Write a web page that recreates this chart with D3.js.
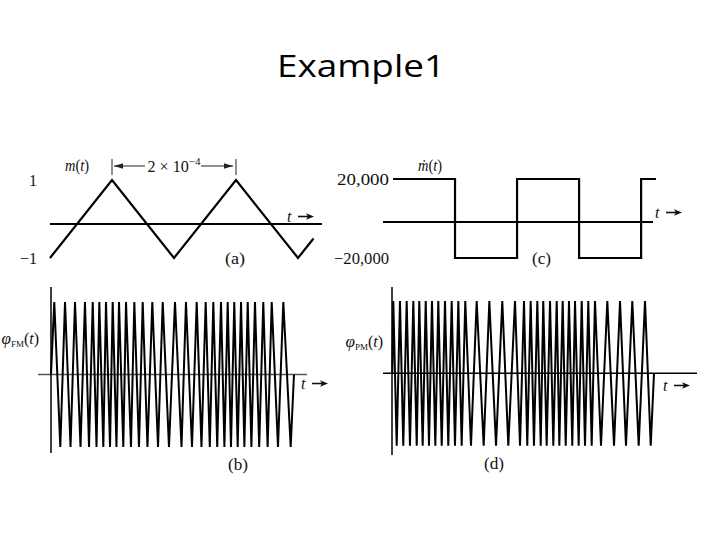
<!DOCTYPE html>
<html><head><meta charset="utf-8">
<script src="https://cdn.jsdelivr.net/npm/d3@7"></script>
<style>body{margin:0;background:#fff}</style>
</head><body>
<svg id="c" width="720" height="540"></svg>
<script>
// ---------------- data (time in units of 1e-4 s) ----------------
const titleText = "Example1";
const mTimes  = [0, 1, 2, 3, 4, 4.25];
const mValues = [-1, 1, -1, 1, -1, -0.5];
const mTickValues = [1, -1];
const mTickLabels = ["1", "\u22121"];
const mdotTimes  = [0, 1, 2, 3, 4, 4.24];
const mdotValues = [20000, -20000, 20000, -20000, 20000, 20000];
const mdotTickValues = [20000, -20000];
const mdotTickLabels = ["20,000", "\u221220,000"];
const fmStartEnd = [0, 3.919];
const fmPeakTimes = [0.053,0.226,0.387,0.548,0.673,0.779,0.887,0.995,1.097,1.210,1.344,1.479,1.634,1.802,
  2.000,2.177,2.350,2.495,2.618,2.742,2.850,2.956,3.065,3.173,3.290,3.424,3.560,3.747];
const fmTroughTimes = [0.150,0.315,0.476,0.613,0.734,0.844,0.952,1.056,1.166,1.290,1.419,1.556,1.726,1.903,
  2.105,2.274,2.427,2.561,2.681,2.797,2.903,3.011,3.119,3.232,3.358,3.494,3.661,3.866];
const pmStartEnd = [0, 4.221];
const pmPeakTimes = [0.016,0.124,0.232,0.339,0.435,0.539,0.640,0.742,0.850,0.958,1.065,1.177,1.361,1.565,1.774,1.979,
  2.124,2.232,2.339,2.435,2.544,2.652,2.748,2.850,2.947,3.055,3.161,3.269,3.468,3.673,3.871,4.076];
const pmTroughTimes = [0.071,0.177,0.285,0.394,0.490,0.592,0.694,0.797,0.903,1.011,1.119,1.269,1.474,1.673,1.871,2.060,
  2.177,2.285,2.394,2.490,2.597,2.694,2.797,2.903,3.006,3.108,3.216,3.366,3.576,3.769,3.974,4.168];
const spanLabel = "2 \u00d7 10";
const spanExp = "\u22124";
const spanFrom = 1, spanTo = 3;

// ---------------- helpers ----------------
const svg = d3.select("#c");
const serif = "'Liberation Serif','Times New Roman','DejaVu Serif',serif";
const FS = 16;
function zigzag(startEnd, peaks, troughs) {
  const pts = [[startEnd[0], 0]];
  peaks.forEach(t => pts.push([t, 1]));
  troughs.forEach(t => pts.push([t, -1]));
  pts.push([startEnd[1], 0]);
  return pts.sort((a, b) => a[0] - b[0]);
}
function hline(g, x1, x2, y, color, w) {
  g.append("line").attr("x1", x1).attr("x2", x2).attr("y1", y).attr("y2", y)
    .attr("stroke", color).attr("stroke-width", w);
}
function vline(g, x, y1, y2, color, w) {
  g.append("line").attr("x1", x).attr("x2", x).attr("y1", y1).attr("y2", y2)
    .attr("stroke", color).attr("stroke-width", w);
}
function label(g, x, y, parts, anchor, width) {
  const t = g.append("text").attr("x", x).attr("y", y).attr("font-family", serif)
    .attr("font-size", FS).attr("text-anchor", anchor || "start").attr("fill", "#111");
  parts.forEach(p => {
    const s = t.append("tspan").text(p.t);
    if (p.i) s.attr("font-style", "italic");
    if (p.fs) s.attr("font-size", p.fs);
    if (p.dy) s.attr("dy", p.dy);
  });
  if (width) t.attr("textLength", width).attr("lengthAdjust", "spacingAndGlyphs");
  return t;
}
function tArrow(g, x, y) {
  label(g, x, y, [{t: "t", i: 1}]);
  const ay = y - 5.5, ax1 = x + 11, ax2 = x + 27;
  hline(g, ax1, ax2 - 6, ay, "#111", 1.6);
  g.append("path").attr("d", `M${ax2},${ay} l-8,-3.2 l2,3.2 l-2,3.2 z`).attr("fill", "#111");
}
function leftAxis(g, x, scale, vals, labs, widths) {
  const ax = g.append("g").attr("transform", `translate(${x},0)`)
    .call(d3.axisLeft(scale).tickValues(vals).tickSize(0).tickPadding(0)
      .tickFormat((d, i) => labs[i]));
  ax.select(".domain").remove();
  ax.attr("font-family", serif).attr("font-size", FS);
  ax.selectAll("text").attr("fill", "#111");
  if (widths) ax.selectAll("text").attr("textLength", (d, i) => widths[i]).attr("lengthAdjust", "spacingAndGlyphs");
}

// ---------------- title ----------------
svg.append("text").attr("x", 361).attr("y", 77).attr("text-anchor", "middle")
  .attr("font-family", "'Open Sans','Noto Sans',sans-serif").attr("font-size", 31)
  .attr("textLength", 168).attr("lengthAdjust", "spacingAndGlyphs").attr("fill", "#000")
  .text(titleText);

// ---------------- panel (a) ----------------
const gA = svg.append("g");
const xA = d3.scaleLinear().domain([0, 4.25]).range([50, 313.5]);
const yA = d3.scaleLinear().domain([-1, 1]).range([258, 180]);
hline(gA, 50, 322, yA(-0.13), "#000", 2);
gA.append("path").datum(d3.zip(mTimes, mValues))
  .attr("d", d3.line().x(d => xA(d[0])).y(d => yA(d[1])))
  .attr("fill", "none").attr("stroke", "#000").attr("stroke-width", 2.2);
leftAxis(gA, 37, yA, mTickValues, mTickLabels);
label(gA, 65, 171, [{t: "m", i: 1}, {t: "("}, {t: "t", i: 1}, {t: ")"}], "start", 24);
// span annotation
const sx1 = xA(spanFrom), sx2 = xA(spanTo), sy = 166;
vline(gA, sx1, 159, 175, "#222", 1);
vline(gA, sx2, 159, 175, "#222", 1);
hline(gA, sx1 + 2, 145, sy, "#222", 1);
hline(gA, 201, sx2 - 3, sy, "#222", 1);
gA.append("path").attr("d", `M${sx1 + 2},${sy} l9,-2.8 l0,5.6 z`).attr("fill", "#222");
gA.append("path").attr("d", `M${sx2 - 3},${sy} l-9,-2.8 l0,5.6 z`).attr("fill", "#222");
label(gA, xA(2), 172, [{t: spanLabel}, {t: spanExp, fs: 11, dy: -7}], "middle", 53);
tArrow(gA, 287, 222);
label(gA, 225, 264, [{t: "(a)"}], "start", 20);

// ---------------- panel (c) ----------------
const gC = svg.append("g");
const xC = d3.scaleLinear().domain([0, 4.24]).range([393, 656]);
const yC = d3.scaleLinear().domain([-20000, 20000]).range([258, 179]);
hline(gC, 383, 653, yC(-1800), "#000", 2);
gC.append("path").datum(d3.zip(mdotTimes, mdotValues))
  .attr("d", d3.line().curve(d3.curveStepAfter).x(d => xC(d[0])).y(d => yC(d[1])))
  .attr("fill", "none").attr("stroke", "#000").attr("stroke-width", 2.2);
leftAxis(gC, 389, yC, mdotTickValues, mdotTickLabels, [52, 55]);
label(gC, 418, 171, [{t: "\u1e41", i: 1}, {t: "("}, {t: "t", i: 1}, {t: ")"}], "start", 24);
tArrow(gC, 655, 218);
label(gC, 532, 264, [{t: "(c)"}], "start", 19);

// ---------------- panel (b) ----------------
const gB = svg.append("g");
const xB = d3.scaleLinear().domain([0, 4]).range([51, 299]);
const yB = d3.scaleLinear().domain([-1, 1]).range([447, 302]);
hline(gB, 38, 307, yB(0), "#555", 1.5);
vline(gB, 51, 287, 453, "#000", 1.5);
gB.append("path").datum(zigzag(fmStartEnd, fmPeakTimes, fmTroughTimes))
  .attr("d", d3.line().x(d => xB(d[0])).y(d => yB(d[1])))
  .attr("fill", "none").attr("stroke", "#000").attr("stroke-width", 2).attr("stroke-linejoin", "bevel");
label(gB, 39, 344, [{t: "\u03c6", i: 1, fs: 17}, {t: "FM", fs: 9, dy: 3}, {t: "(", dy: -3}, {t: "t", i: 1}, {t: ")"}], "end");
tArrow(gB, 301, 389);
label(gB, 228, 470, [{t: "(b)"}], "start", 20);

// ---------------- panel (d) ----------------
const gD = svg.append("g");
const xD = d3.scaleLinear().domain([0, 4]).range([392.3, 640.3]);
const yD = d3.scaleLinear().domain([-1, 1]).range([445.7, 301]);
hline(gD, 383, 697, yD(0), "#000", 1.5);
vline(gD, 392, 287, 455, "#000", 1.5);
gD.append("path").datum(zigzag(pmStartEnd, pmPeakTimes, pmTroughTimes))
  .attr("d", d3.line().x(d => xD(d[0])).y(d => yD(d[1])))
  .attr("fill", "none").attr("stroke", "#000").attr("stroke-width", 2).attr("stroke-linejoin", "bevel");
label(gD, 383, 347, [{t: "\u03c6", i: 1, fs: 17}, {t: "PM", fs: 9, dy: 3}, {t: "(", dy: -3}, {t: "t", i: 1}, {t: ")"}], "end");
tArrow(gD, 663, 391);
label(gD, 484, 469, [{t: "(d)"}], "start", 20);
</script>
</body></html>
